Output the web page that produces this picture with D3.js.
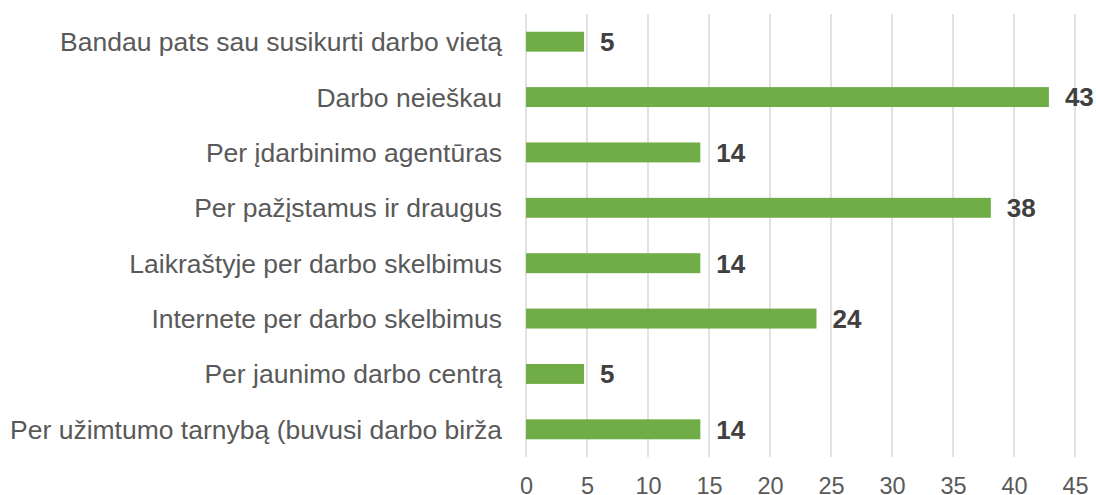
<!DOCTYPE html>
<html>
<head>
<meta charset="utf-8">
<script src="https://cdn.jsdelivr.net/npm/d3@7"></script>
<style>
  body { margin: 0; background: #fff; }
  svg { display: block; font-family: "Liberation Sans", Arial, sans-serif; }
</style>
</head>
<body>
<script>
  // chart data (bar lengths, labels are rounded)
  const categories = [
    'Bandau pats sau susikurti darbo vietą',
    'Darbo neieškau',
    'Per įdarbinimo agentūras',
    'Per pažįstamus ir draugus',
    'Laikraštyje per darbo skelbimus',
    'Internete per darbo skelbimus',
    'Per jaunimo darbo centrą',
    'Per užimtumo tarnybą (buvusi darbo birža'
  ];
  const values = [4.76, 42.86, 14.29, 38.1, 14.29, 23.81, 4.76, 14.29];
  const xTicks = [0, 5, 10, 15, 20, 25, 30, 35, 40, 45];

  const width = 1096, height = 495;
  const margin = { top: 14, right: 21, bottom: 38, left: 526 };
  const w = width - margin.left - margin.right;
  const h = height - margin.top - margin.bottom;

  const svg = d3.select('body').append('svg')
    .attr('width', width).attr('height', height);
  const g = svg.append('g')
    .attr('transform', `translate(${margin.left}, ${margin.top})`);

  const x = d3.scaleLinear().domain([0, 45]).range([0, w]);
  const y = d3.scaleBand().domain(categories).range([0, h]).paddingInner(0.64).paddingOuter(0.32);

  // vertical grid lines
  g.selectAll('.grid').data(xTicks).enter().append('line')
    .attr('class', 'grid')
    .attr('x1', d => x(d)).attr('x2', d => x(d))
    .attr('y1', 0).attr('y2', h)
    .attr('stroke', '#d9d9d9').attr('stroke-width', 1.5);

  // bars
  g.selectAll('.bar').data(values).enter().append('rect')
    .attr('class', 'bar')
    .attr('x', x(0))
    .attr('y', (d, i) => y(categories[i]))
    .attr('width', d => x(d) - x(0))
    .attr('height', y.bandwidth())
    .attr('fill', '#70ad47');

  // value labels
  g.selectAll('.val').data(values).enter().append('text')
    .attr('class', 'val')
    .attr('x', d => x(d) + 16)
    .attr('y', (d, i) => y(categories[i]) + y.bandwidth() / 2)
    .attr('dy', '0.36em')
    .attr('font-size', 26).attr('font-weight', 'bold')
    .attr('fill', '#404040')
    .text(d => Math.round(d));

  // category labels
  g.selectAll('.cat').data(categories).enter().append('text')
    .attr('class', 'cat')
    .attr('x', -24)
    .attr('y', d => y(d) + y.bandwidth() / 2)
    .attr('dy', '0.36em')
    .attr('text-anchor', 'end')
    .attr('font-size', 26.5)
    .attr('fill', '#595959')
    .text(d => d);

  // x axis
  const xAxis = g.append('g')
    .attr('transform', `translate(0,${h})`)
    .call(d3.axisBottom(x).tickValues(xTicks).tickSize(0));
  xAxis.select('.domain').remove();
  xAxis.selectAll('text')
    .attr('y', 36.5).attr('dy', 0)
    .attr('font-size', 23.5)
    .attr('font-family', '"Liberation Sans", Arial, sans-serif')
    .attr('fill', '#595959');
</script>
</body>
</html>
